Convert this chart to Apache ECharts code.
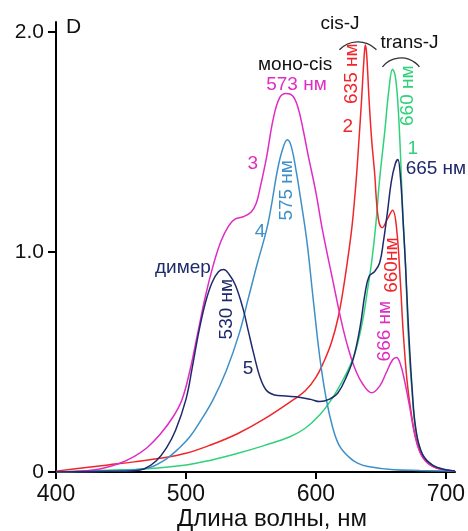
<!DOCTYPE html>
<html>
<head>
<meta charset="utf-8">
<script src="https://cdn.jsdelivr.net/npm/echarts@6/dist/echarts.min.js"></script>
<style>
  html, body { margin: 0; padding: 0; background: #ffffff; }
  #chart { width: 468px; height: 531px; }
</style>
</head>
<body>
<div id="chart"></div>
<script>
// Absorption spectra, panel D: wavelength (nm) vs absorbance.
const xTicks = [400, 500, 600, 700];
const yTicks = [0, 1, 2];

// 1 — trans-J aggregate (peak 660 nm)
const wl1 = [400, 440, 470, 500, 520, 540, 560, 580, 592, 603, 612, 620, 626, 631, 636, 640, 643, 646, 649, 653, 656, 659, 661, 663, 665, 667, 669, 671, 674, 677, 682, 690, 700, 707];
const ab1 = [0.0, 0.008, 0.015, 0.032, 0.055, 0.085, 0.12, 0.16, 0.20, 0.26, 0.33, 0.41, 0.48, 0.56, 0.69, 0.84, 0.96, 1.12, 1.33, 1.55, 1.73, 1.83, 1.80, 1.68, 1.45, 1.15, 0.93, 0.63, 0.36, 0.18, 0.08, 0.03, 0.01, 0.005];

// 2 — cis-J aggregate (peak 635 nm, shoulder 660 nm)
const wl2 = [400, 420, 440, 460, 480, 500, 520, 540, 560, 583, 592, 600, 606, 612, 617, 621, 625, 628, 631, 633, 635, 637, 638, 639, 641, 643, 645, 648, 651, 655, 659, 662, 665, 667, 670, 673, 677, 682, 690, 700, 707];
const ab2 = [0.004, 0.018, 0.032, 0.046, 0.062, 0.085, 0.125, 0.175, 0.24, 0.33, 0.37, 0.43, 0.50, 0.59, 0.70, 0.83, 0.99, 1.13, 1.33, 1.50, 1.68, 1.88, 1.94, 1.90, 1.68, 1.50, 1.37, 1.15, 1.11, 1.15, 1.19, 1.11, 0.86, 0.65, 0.42, 0.28, 0.15, 0.07, 0.025, 0.008, 0.003];

// 3 — mono-cis (peak 573 nm, band 666 nm)
const wl3 = [400, 430, 449, 460, 470, 480, 490, 497, 503, 509, 515, 521, 527, 533, 538, 544, 550, 554, 557, 562, 567, 572, 577, 582, 586, 590, 594, 600, 605, 613, 619, 624, 630, 636, 643, 649, 654, 659, 662, 665, 668, 672, 676, 680, 686, 695, 707];
const ab3 = [0.0, 0.01, 0.04, 0.07, 0.11, 0.17, 0.25, 0.33, 0.46, 0.63, 0.80, 0.94, 1.05, 1.12, 1.15, 1.16, 1.18, 1.22, 1.29, 1.43, 1.60, 1.70, 1.72, 1.71, 1.66, 1.56, 1.44, 1.27, 1.10, 0.87, 0.70, 0.58, 0.47, 0.40, 0.36, 0.39, 0.45, 0.51, 0.52, 0.49, 0.42, 0.30, 0.17, 0.09, 0.04, 0.015, 0.005];

// 4 — monomer (peak 575 nm)
const wl4 = [400, 440, 460, 472, 485, 495, 503, 511, 521, 531, 541, 548, 555, 562, 566, 570, 574, 578, 581, 585, 588, 593, 598, 603, 608, 613, 618, 625, 632, 640, 660, 680, 707];
const ab4 = [0.0, 0.003, 0.01, 0.02, 0.06, 0.11, 0.16, 0.23, 0.33, 0.46, 0.63, 0.79, 0.95, 1.10, 1.22, 1.36, 1.46, 1.51, 1.48, 1.36, 1.25, 1.05, 0.78, 0.52, 0.33, 0.20, 0.12, 0.07, 0.04, 0.025, 0.01, 0.007, 0.005];

// 5 — dimer (530 nm) converting to the 665 nm band
const wl5 = [400, 440, 460, 468, 477, 485, 492, 500, 505, 510, 515, 520, 525, 529, 533, 538, 544, 548, 552, 557, 562, 568, 577, 587, 596, 603, 610, 617, 624, 629, 634, 638, 641, 645, 649, 652, 655, 658, 661, 663, 665, 667, 669, 671, 674, 677, 682, 690, 700, 707];
const ab5 = [0.0, 0.003, 0.006, 0.015, 0.05, 0.11, 0.19, 0.33, 0.48, 0.64, 0.77, 0.86, 0.91, 0.92, 0.90, 0.85, 0.74, 0.64, 0.54, 0.43, 0.37, 0.35, 0.345, 0.34, 0.33, 0.32, 0.33, 0.36, 0.44, 0.52, 0.66, 0.82, 0.89, 0.91, 0.95, 1.05, 1.18, 1.32, 1.40, 1.42, 1.34, 1.15, 0.93, 0.68, 0.38, 0.19, 0.08, 0.03, 0.01, 0.005];

const FONT = '"Liberation Sans", Arial, sans-serif';
const COLORS = {
  green: '#2fd27a',
  red: '#f0262a',
  magenta: '#e02cc2',
  blue: '#3f90c8',
  navy: '#1f2a6c'
};

function pairs(xs, ys) { return xs.map((x, i) => [x, ys[i]]); }

function lineSeries(name, xs, ys, color) {
  return {
    name: name,
    type: 'line',
    data: pairs(xs, ys),
    showSymbol: false,
    smooth: 0.4,
    lineStyle: { color: color, width: 1.5 },
    itemStyle: { color: color },
    silent: true,
    animation: false
  };
}

const chart = echarts.init(document.getElementById('chart'), null, { renderer: 'canvas' });

chart.setOption({
  animation: false,
  backgroundColor: '#ffffff',
  grid: { left: 56, right: 13, top: 22, bottom: 59, containLabel: false, outerBoundsMode: 'none' },
  xAxis: {
    type: 'value',
    min: 400,
    max: 707,
    interval: 100,
    splitLine: { show: false },
    axisLine: { onZero: false, lineStyle: { color: '#000', width: 2 } },
    axisTick: { show: true, length: 7, customValues: xTicks, lineStyle: { color: '#000', width: 2 } },
    axisLabel: { customValues: xTicks, margin: 11, color: '#111', fontSize: 23, fontFamily: FONT },
    name: 'Длина волны, нм',
    nameLocation: 'middle',
    nameGap: 35,
    nameMoveOverlap: false,
    nameTextStyle: { color: '#111', fontSize: 24, fontFamily: FONT, padding: [0, 0, 0, 33] }
  },
  yAxis: {
    type: 'value',
    min: 0,
    max: 2.045,
    interval: 1,
    splitLine: { show: false },
    axisLine: { show: true, lineStyle: { color: '#000', width: 2 } },
    axisTick: { show: true, length: 8, customValues: yTicks, lineStyle: { color: '#000', width: 2 } },
    axisLabel: {
      customValues: yTicks,
      margin: 12,
      color: '#111',
      fontSize: 21,
      fontFamily: FONT,
      formatter: v => (v === 0 ? '0' : v.toFixed(1))
    }
  },
  series: [
    lineSeries('1', wl1, ab1, COLORS.green),
    lineSeries('2', wl2, ab2, COLORS.red),
    lineSeries('3', wl3, ab3, COLORS.magenta),
    lineSeries('4', wl4, ab4, COLORS.blue),
    lineSeries('5', wl5, ab5, COLORS.navy)
  ]
});

// Annotation anchors, given in data coordinates (wavelength, absorbance).
const notes = [
  { text: 'cis-J', at: [618.5, 2.036], color: '#111' },
  { text: 'trans-J', at: [672, 1.95], color: '#111' },
  { text: 'моно-cis', at: [584, 1.85], color: '#111' },
  { text: '573 нм', at: [585, 1.76], color: COLORS.magenta },
  { text: '635 нм', at: [627.7, 1.81], color: COLORS.red, vertical: true },
  { text: '2', at: [624.6, 1.57], color: COLORS.red },
  { text: '660 нм', at: [670.8, 1.71], color: COLORS.green, vertical: true },
  { text: '1', at: [674.6, 1.47], color: COLORS.green },
  { text: '665 нм', at: [692.3, 1.38], color: COLORS.navy },
  { text: '3', at: [551.5, 1.40], color: COLORS.magenta },
  { text: '575 нм', at: [577.7, 1.28], color: COLORS.blue, vertical: true },
  { text: '4', at: [557, 1.09], color: COLORS.blue },
  { text: 'димер', at: [497.7, 0.93], color: COLORS.navy },
  { text: '530 нм', at: [531.5, 0.74], color: COLORS.navy, vertical: true },
  { text: '5', at: [547.7, 0.47], color: COLORS.navy },
  { text: '660нм', at: [658.5, 0.94], color: COLORS.red, vertical: true },
  { text: '666 нм', at: [653, 0.64], color: COLORS.magenta, vertical: true }
];

// Brackets over the J-aggregate peaks: apex in data coordinates, chord in px.
const brackets = [
  { apex: [632.3, 1.955], halfChord: 18.5, sagitta: 8 },
  { apex: [665.4, 1.882], halfChord: 18.5, sagitta: 9 }
];

function toPx(p) { return chart.convertToPixel({ gridIndex: 0 }, p); }

const graphics = [];

graphics.push({
  type: 'text',
  x: 66, y: 27,
  style: { text: 'D', fill: '#111', font: '21px ' + FONT, align: 'left', verticalAlign: 'middle', textAlign: 'left', textVerticalAlign: 'middle' },
  silent: true
});

notes.forEach(n => {
  const p = toPx(n.at);
  graphics.push({
    type: 'text',
    x: p[0], y: p[1],
    rotation: n.vertical ? Math.PI / 2 : 0,
    style: {
      text: n.text,
      fill: n.color,
      font: '19px ' + FONT,
      align: 'center', verticalAlign: 'middle',
      textAlign: 'center', textVerticalAlign: 'middle'
    },
    silent: true
  });
});

brackets.forEach(b => {
  const p = toPx(b.apex);
  const r = (b.halfChord * b.halfChord + b.sagitta * b.sagitta) / (2 * b.sagitta);
  const half = Math.asin(b.halfChord / r);
  graphics.push({
    type: 'arc',
    shape: { cx: p[0], cy: p[1] + r, r: r, startAngle: -Math.PI / 2 - half, endAngle: -Math.PI / 2 + half, clockwise: true },
    style: { stroke: '#333', fill: null, lineWidth: 1.3 },
    silent: true
  });
});

chart.setOption({ graphic: graphics });
</script>
</body>
</html>
